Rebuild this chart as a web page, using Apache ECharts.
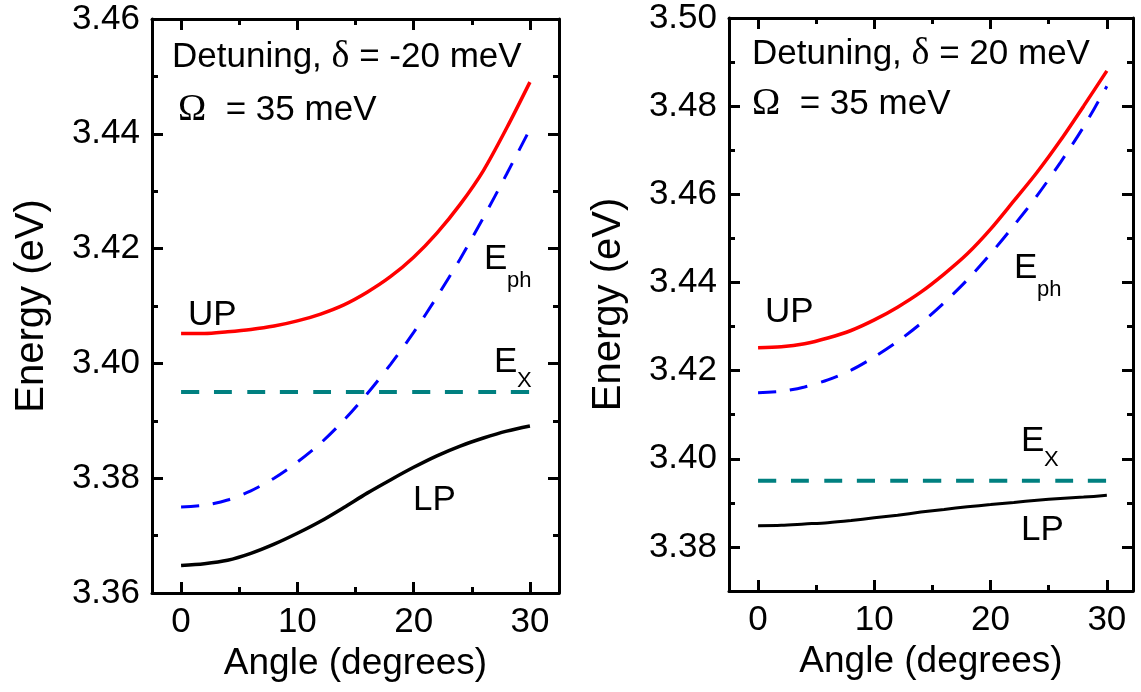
<!DOCTYPE html>
<html lang="en">
<head>
<meta charset="UTF-8">
<title>Polariton dispersion</title>
<script src="https://cdn.jsdelivr.net/npm/echarts@6/dist/echarts.min.js"></script>
<style>
    html, body { margin: 0; padding: 0; background: #fff; }
    #main { width: 1141px; height: 692px; }
</style>
</head>
<body>
<div id="main"></div>
<script>
// angle (degrees) sampled every 2 degrees
var angles = [0, 2, 4, 6, 8, 10, 12, 14, 16, 18, 20, 22, 24, 26, 28, 30];

// left panel, detuning -20 meV
var leftUP  = [3.4052, 3.4052, 3.4055, 3.4059, 3.4065, 3.4074, 3.4086, 3.4102, 3.4124, 3.4151, 3.4185, 3.4227, 3.4277, 3.4336, 3.4410, 3.4490];
var leftEph = [3.3750, 3.3753, 3.3762, 3.3778, 3.3800, 3.3828, 3.3861, 3.3901, 3.3947, 3.3998, 3.4054, 3.4116, 3.4182, 3.4254, 3.4330, 3.4408];
var leftLP  = [3.3648, 3.3651, 3.3657, 3.3669, 3.3685, 3.3704, 3.3725, 3.3749, 3.3774, 3.3797, 3.3819, 3.3839, 3.3856, 3.3870, 3.3882, 3.3891];
var leftEx  = [3.395, 3.395, 3.395, 3.395, 3.395, 3.395, 3.395, 3.395, 3.395, 3.395, 3.395, 3.395, 3.395, 3.395, 3.395, 3.395];

// right panel, detuning +20 meV
var rightUP  = [3.4252, 3.4254, 3.4261, 3.4274, 3.4291, 3.4315, 3.4344, 3.4378, 3.4419, 3.4465, 3.4521, 3.4585, 3.4650, 3.4722, 3.4800, 3.4880];
var rightEph = [3.4150, 3.4153, 3.4163, 3.4179, 3.4201, 3.4231, 3.4266, 3.4307, 3.4354, 3.4406, 3.4465, 3.4529, 3.4597, 3.4672, 3.4753, 3.4845];
var rightLP  = [3.3848, 3.3849, 3.3852, 3.3855, 3.3860, 3.3866, 3.3872, 3.3879, 3.3885, 3.3891, 3.3896, 3.3901, 3.3906, 3.3910, 3.3913, 3.3917];
var rightEx  = [3.395, 3.395, 3.395, 3.395, 3.395, 3.395, 3.395, 3.395, 3.395, 3.395, 3.395, 3.395, 3.395, 3.395, 3.395, 3.395];

// ticks
var xMajor = [0, 10, 20, 30];
var xMinor = [5, 15, 25];
var leftYMajor = [3.36, 3.38, 3.40, 3.42, 3.44, 3.46];
var leftYMinor = [3.37, 3.39, 3.41, 3.43, 3.45];
var rightYMajor = [3.38, 3.40, 3.42, 3.44, 3.46, 3.48, 3.50];
var rightYMinor = [3.37, 3.39, 3.41, 3.43, 3.45, 3.47, 3.49];

var FONT = '"Liberation Sans", Arial, sans-serif';
var SERIF = '"Liberation Serif", "Times New Roman", serif';

var chart = echarts.init(document.getElementById('main'));

// one axis per side for major ticks, one for minor ticks (ticks inside, box frame)
function makeAxes(grid, sides, min, max, major, minor, fmt, name, nameGap, nameSize) {
    var list = [];
    sides.forEach(function (side, k) {
        [major, minor].forEach(function (vals, m) {
            var main = (k === 0 && m === 0);
            list.push({
                type: 'value', gridIndex: grid, position: side, min: min, max: max,
                axisLine: { show: m === 0, onZero: false, lineStyle: { color: '#000', width: 3 } },
                axisTick: { show: true, inside: true, length: m === 0 ? 11 : 6, customValues: vals,
                            lineStyle: { color: '#000', width: 3 } },
                axisLabel: { show: main, customValues: major, formatter: fmt, margin: 12,
                             color: '#000', fontFamily: FONT, fontSize: 35 },
                splitLine: { show: false },
                name: main ? name : '',
                nameLocation: 'middle', nameGap: nameGap,
                nameTextStyle: { color: '#000', fontFamily: FONT, fontSize: nameSize }
            });
        });
    });
    return list;
}

function fx(v) { return String(Math.round(v)); }
function fy(v) { return Number(v).toFixed(2); }

var xAxes = makeAxes(0, ['bottom', 'top'], -2.5, 32.5, xMajor, xMinor, fx, 'Angle (degrees)', 50, 37)
    .concat(makeAxes(1, ['bottom', 'top'], -2.5, 32.25, xMajor, xMinor, fx, 'Angle (degrees)', 50, 37));
var yAxes = makeAxes(0, ['left', 'right'], 3.36, 3.46, leftYMajor, leftYMinor, fy, 'Energy (eV)', 100, 40)
    .concat(makeAxes(1, ['left', 'right'], 3.37, 3.50, rightYMajor, rightYMinor, fy, 'Energy (eV)', 100, 40));

function line(data, grid, color, width, dash) {
    return {
        type: 'line', xAxisIndex: grid * 4, yAxisIndex: grid * 4,
        data: angles.map(function (a, i) { return [a, data[i]]; }),
        symbol: 'none', smooth: 0.3,
        lineStyle: { color: color, width: width, type: dash || 'solid' }
    };
}

// annotation text helpers (pixel layout)
function txt(x, y, s, size) {
    return { type: 'text', x: x, y: y, z: 100,
             style: { text: s, fill: '#000', font: (size || 35) + 'px ' + FONT,
                      textAlign: 'left', textVerticalAlign: 'middle', align: 'left', verticalAlign: 'middle' } };
}
function greek(x, y, before, sym, after) {
    return { type: 'text', x: x, y: y, z: 100,
             style: { text: '{a|' + before + '}{g|' + sym + '}{a|' + after + '}',
                      textAlign: 'left', textVerticalAlign: 'middle', align: 'left', verticalAlign: 'middle',
                      rich: { a: { fill: '#000', fontFamily: FONT, fontSize: 35 },
                              g: { fill: '#000', fontFamily: SERIF, fontSize: 38 } } } };
}

var graphics = [
    greek(172, 57, 'Detuning, ', 'δ', ' = -20 meV'),
    greek(178, 110, '', 'Ω', '  = 35 meV'),
    txt(188, 315, 'UP'),
    txt(484, 259, 'E'), txt(507, 281, 'ph', 22),
    txt(494, 362, 'E'), txt(517, 381, 'X', 22),
    txt(413, 500, 'LP'),

    greek(752, 54, 'Detuning, ', 'δ', ' = 20 meV'),
    greek(752, 104, '', 'Ω', '  = 35 meV'),
    txt(765, 312, 'UP'),
    txt(1014, 268, 'E'), txt(1037, 290, 'ph', 22),
    txt(1021, 441, 'E'), txt(1044, 460, 'X', 22),
    txt(1021, 530, 'LP')
];

var option = {
    animation: false,
    backgroundColor: '#fff',
    grid: [
        { left: 152, top: 19, width: 407, height: 574 },
        { left: 729, top: 18, width: 404, height: 573 }
    ],
    xAxis: xAxes,
    yAxis: yAxes,
    graphic: graphics,
    series: [
        line(leftEx, 0, '#008080', 4, [18, 15]),
        line(leftEph, 0, '#0000ff', 3, [18, 14]),
        line(leftLP, 0, '#000000', 3.5),
        line(leftUP, 0, '#ff0000', 3.5),
        line(rightEx, 1, '#008080', 4, [18, 15]),
        line(rightEph, 1, '#0000ff', 3, [18, 14]),
        line(rightLP, 1, '#000000', 3),
        line(rightUP, 1, '#ff0000', 3.5)
    ]
};

chart.setOption(option);
</script>
</body>
</html>
